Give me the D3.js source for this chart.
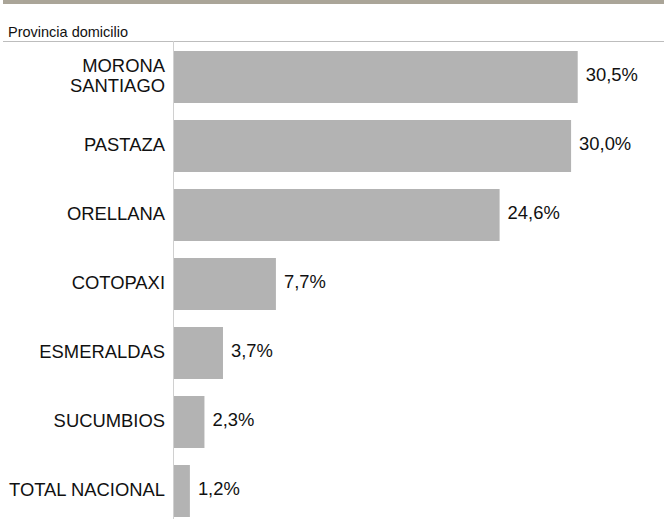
<!DOCTYPE html>
<html><head><meta charset="utf-8">
<script src="https://cdn.jsdelivr.net/npm/d3@7"></script>
<style>body{margin:0;background:#fff}svg{display:block}text{font-family:"Liberation Sans",Arial,sans-serif;fill:#111}</style>
</head><body>
<script>
const categories = [["MORONA","SANTIAGO"],["PASTAZA"],["ORELLANA"],["COTOPAXI"],["ESMERALDAS"],["SUCUMBIOS"],["TOTAL NACIONAL"]];
const values = [30.5, 30.0, 24.6, 7.7, 3.7, 2.3, 1.2];
const valueLabels = ["30,5%","30,0%","24,6%","7,7%","3,7%","2,3%","1,2%"];
const headerTitle = "Provincia domicilio";

const W = 664, H = 519;
const svg = d3.select("body").append("svg").attr("width", W).attr("height", H);

svg.append("rect").attr("x", 3).attr("y", 0).attr("width", W - 3).attr("height", 4).attr("fill", "#aaa598");

svg.append("text").attr("x", 8).attr("y", 37).attr("font-size", 14.5).text(headerTitle);
svg.append("line").attr("x1", 3).attr("x2", W).attr("y1", 41.5).attr("y2", 41.5).attr("stroke", "#bdbdbd").attr("stroke-width", 1);

const x0 = 174;
const x = d3.scaleLinear().domain([0, 30.5]).range([x0, 577.7]);
const idx = d3.range(values.length);
const y = d3.scaleBand().domain(idx).range([42.5, 42.5 + 69 * 7]).paddingInner(17/69).paddingOuter(17/138);

svg.append("line").attr("x1", 173.5).attr("x2", 173.5).attr("y1", 41).attr("y2", H).attr("stroke", "#d0d0d0");

svg.selectAll("rect.bar").data(idx).enter().append("rect").attr("class", "bar")
  .attr("x", x(0)).attr("y", i => y(i)).attr("width", i => x(values[i]) - x(0)).attr("height", y.bandwidth())
  .attr("fill", "#b3b3b3");

svg.selectAll("text.val").data(idx).enter().append("text").attr("class", "val")
  .attr("x", i => x(values[i]) + 8).attr("y", i => y(i) + y.bandwidth() / 2 + 4)
  .attr("font-size", 18.4).text(i => valueLabels[i]);

const lab = svg.selectAll("text.cat").data(idx).enter().append("text").attr("class", "cat")
  .attr("text-anchor", "end").attr("font-size", 18.4);
lab.each(function(i) {
  const lines = categories[i];
  const cy = y(i) + y.bandwidth() / 2 + 5;
  const lh = 20;
  lines.forEach((t, k) => {
    d3.select(this).append("tspan").attr("x", 165).attr("y", cy + (k - (lines.length - 1) / 2) * lh).text(t);
  });
});
</script>
</body></html>
